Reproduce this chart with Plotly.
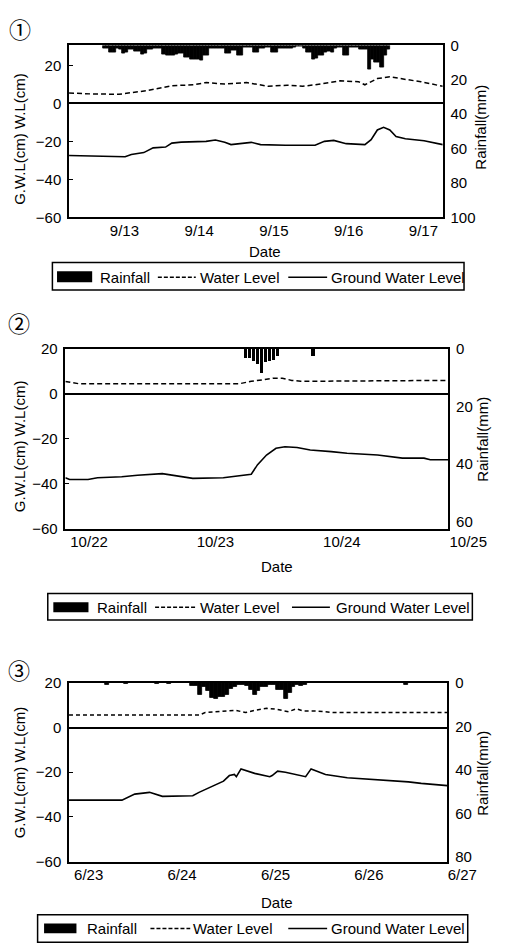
import plotly.graph_objects as go
import pandas as pd

# ---------------- data ----------------
# Event 1 : hours counted from 9/12 00:00
p1_base = "1998-09-12"
p1_rain_start = "1998-09-12 23:00"          # hourly rainfall (mm)
p1_rain = [1.7, 1.7, 3.8, 3.8, 1.7, 2.5, 4.6, 4.0, 2.3, 2.3, 3.2, 3.2, 5.5, 4.5, 2.3, 2.3, 1.9, 1.9, 1.9, 5.0,
           6.1, 6.1, 6.1, 5.0, 4.8, 4.8, 6.7, 6.7, 8.0, 8.0, 8.0, 8.9, 5.7, 5.7, 1.7, 1.7, 1.7, 1.7, 1.7, 4.6,
           4.6, 2.9, 2.9, 5.7, 5.7, 1.3, 1.3, 1.3, 3.8, 3.8, 1.9, 1.9, 1.0, 1.0, 3.8, 3.8, 1.7, 1.7, 1.7, 1.7,
           1.7, 1.2, 0.8, 0.8, 2.0, 4.2, 4.2, 8.0, 7.5, 6.1, 6.1, 4.0, 3.2, 4.2, 2.0, 1.3, 1.3, 5.7, 5.7, 1.3,
           1.3, 1.3, 2.3, 2.3, 2.3, 13.7, 8.0, 9.9, 9.9, 12.7, 6.1, 2.3]
p1_wl_h = [12, 19, 28, 37, 45, 52, 56, 62, 69, 72, 76, 82, 87, 91, 96, 99, 105, 107, 111, 115, 121, 125, 132]
p1_wl = [5.5, 5.0, 4.8, 6.7, 9.3, 9.8, 11.0, 10.2, 11.0, 10.0, 9.0, 9.6, 9.0, 9.8, 11.0, 11.9, 11.4, 9.8,
         13.1, 14.0, 12.4, 11.4, 9.0]
p1_gw_h = [12, 22, 30, 32, 36, 39, 43, 45, 48, 56, 59, 62, 64, 70.5, 73.5, 81.5, 91, 94, 97, 101, 107, 109,
           111, 113, 115, 117, 120, 126, 132]
p1_gw = [-27.4, -28.0, -28.1, -26.9, -25.9, -23.4, -23.0, -20.9, -20.4, -20.0, -19.3, -20.5, -21.7, -20.5,
         -21.7, -22.0, -22.0, -20.0, -19.5, -21.2, -21.7, -19.1, -14.0, -12.6, -14.0, -17.4, -18.6, -19.7, -21.7]
p1_tickdates = ["1998-09-13", "1998-09-14", "1998-09-15", "1998-09-16", "1998-09-17"]
p1_ticktext = ["9/13", "9/14", "9/15", "9/16", "9/17"]

# Event 2 : hours counted from 10/22 00:00
p2_base = "1998-10-22"
p2_rain_h = [33.5, 34.3, 35.1, 35.9, 36.6, 37.4, 38.1, 38.9, 39.6, 46.4]
p2_rain = [3.1, 3.1, 4.2, 5.3, 8.4, 4.5, 4.2, 3.9, 2.3, 2.3]
p2_wl_h = [-0.7, 1.9, 32.3, 34.6, 37, 38.8, 40.5, 42.3, 44, 72]
p2_wl = [5.5, 4.5, 4.5, 5.6, 6.3, 7.0, 7.0, 6.0, 5.6, 6.0]
p2_gw_h = [-0.7, 0.1, 3.6, 5.4, 10, 13, 17.7, 20, 23.5, 29.3, 32.3, 34.6, 35.8, 37.5, 39.3, 41, 43.3, 45.8,
           49.8, 52.8, 58.6, 63.3, 67.4, 68.6, 72]
p2_gw = [-37.3, -38.1, -38.1, -37.3, -36.9, -36.2, -35.5, -36.2, -37.6, -37.3, -36.5, -35.8, -31.5, -27.2,
         -24.2, -23.5, -23.9, -25.0, -25.7, -26.4, -27.2, -28.6, -28.6, -29.3, -29.3]
p2_tickdates = ["1998-10-22", "1998-10-23", "1998-10-24", "1998-10-25"]
p2_ticktext = ["10/22", "10/23", "10/24", "10/25"]

# Event 3 : hours counted from 6/23 00:00
p3_base = "1998-06-23"
p3_rain_h = [8, 13, 21, 24, 30, 31, 32, 33, 34, 35, 36, 37, 38, 39, 40, 41, 42, 43, 44, 45, 46, 47, 48, 49,
             50, 51, 52, 53, 54, 55, 56, 57, 58, 59, 85]
p3_rain = [0.8, 0.5, 0.4, 0.5, 1.4, 1.4, 5.3, 1.8, 3.5, 7.0, 7.4, 6.3, 6.6, 5.6, 2.6, 2.0, 0.8, 1.0, 1.4, 3.3,
           5.6, 3.8, 1.8, 1.8, 0.8, 0.8, 3.3, 3.3, 7.4, 4.8, 1.8, 1.0, 1.4, 1.0, 0.8]
p3_wl_h = [-1.2, 32.2, 33.8, 38.6, 41.7, 44.1, 46.5, 49.6, 52, 55.2, 57.2, 59.1, 62.3, 67.1, 96]
p3_wl = [5.6, 5.6, 6.7, 7.4, 7.7, 6.7, 7.7, 8.6, 8.2, 7.1, 8.4, 7.4, 7.4, 6.7, 6.7]
p3_gw_h = [-1.2, 12.4, 15.7, 19.5, 22.8, 30.6, 32.2, 34.6, 38.5, 40, 41.3, 41.8, 43, 46.5, 50.4, 51, 52.4,
           54.4, 58.4, 59.6, 61, 64.7, 70.3, 78.1, 86, 89.3, 92, 96]
p3_gw = [-32.5, -32.5, -29.8, -29.0, -30.8, -30.5, -29.0, -27.0, -24.0, -21.5, -21.0, -22.0, -18.5, -20.5,
         -22.0, -21.5, -19.5, -20.0, -21.8, -22.0, -18.5, -21.0, -22.5, -23.3, -24.3, -25.0, -25.5, -26.0]
p3_tickdates = ["1998-06-23", "1998-06-24", "1998-06-25", "1998-06-26", "1998-06-27"]
p3_ticktext = ["6/23", "6/24", "6/25", "6/26", "6/27"]

legend_labels = ["Rainfall", "Water Level", "Ground Water Level"]
y_title = "G.W.L(cm) W.L(cm)"
y2_title = "Rainfall(mm)"
x_title = "Date"
panel_marks = ["①", "②", "③"]

# ---------------- helpers ----------------
W, H = 520, 950
FONT = "Liberation Sans, Arial, Helvetica, sans-serif"


def t(base, hours):
    return pd.Timestamp(base) + pd.to_timedelta(pd.Series(hours, dtype=float), unit="h")


def px(x):
    return x / W


def py(y):
    return 1 - y / H


fig = go.Figure()

# panel geometry (pixels)
panels = [
    dict(x0=66, x1=470, y0=29, y1=204),
    dict(x0=62, x1=476, y0=338, y1=521),
    dict(x0=66, x1=475, y0=678, y1=860),
]

line_kw_wl = dict(color="black", width=1.5, dash="5px,3px")
line_kw_gw = dict(color="black", width=1.6)
solid_bar = dict(color="black", line=dict(color="black", width=0.8))

# --- panel 1 traces
p1_rain_x = pd.date_range(p1_rain_start, periods=len(p1_rain), freq="h") + pd.Timedelta(minutes=30)
fig.add_trace(go.Bar(x=p1_rain_x, y=p1_rain, width=3600000, marker=solid_bar,
                     xaxis="x", yaxis="y2", showlegend=False))
fig.add_trace(go.Scatter(x=t(p1_base, p1_wl_h), y=p1_wl, mode="lines", line=line_kw_wl,
                         xaxis="x", yaxis="y", showlegend=False))
fig.add_trace(go.Scatter(x=t(p1_base, p1_gw_h), y=p1_gw, mode="lines", line=line_kw_gw,
                         xaxis="x", yaxis="y", showlegend=False))

# --- panel 2 traces
fig.add_trace(go.Bar(x=t(p2_base, p2_rain_h), y=p2_rain, width=2200000,
                     marker=dict(color="black", line=dict(width=0)),
                     xaxis="x2", yaxis="y4", showlegend=False))
fig.add_trace(go.Scatter(x=t(p2_base, p2_wl_h), y=p2_wl, mode="lines", line=line_kw_wl,
                         xaxis="x2", yaxis="y3", showlegend=False))
fig.add_trace(go.Scatter(x=t(p2_base, p2_gw_h), y=p2_gw, mode="lines", line=line_kw_gw,
                         xaxis="x2", yaxis="y3", showlegend=False))

# --- panel 3 traces
fig.add_trace(go.Bar(x=t(p3_base, p3_rain_h) + pd.Timedelta(minutes=30), y=p3_rain, width=3600000,
                     marker=solid_bar, xaxis="x3", yaxis="y6", showlegend=False))
fig.add_trace(go.Scatter(x=t(p3_base, p3_wl_h), y=p3_wl, mode="lines", line=dict(color="black", width=1.5, dash="4px,3px"),
                         xaxis="x3", yaxis="y5", showlegend=False))
fig.add_trace(go.Scatter(x=t(p3_base, p3_gw_h), y=p3_gw, mode="lines", line=line_kw_gw,
                         xaxis="x3", yaxis="y5", showlegend=False))


def xaxis(p, anchor, rng, tv, tt, shift):
    return dict(domain=[px(p["x0"]), px(p["x1"])], anchor=anchor, type="date", range=rng,
                tickvals=tv, ticktext=tt, ticks="", showgrid=False, zeroline=False,
                showline=True, linecolor="black", linewidth=1.5, mirror=True,
                tickfont=dict(size=15, color="black"), ticklabelshift=shift, ticklabelstandoff=-1)


def yleft(p, anchor, rng, tv):
    return dict(domain=[py(p["y1"]), py(p["y0"])], anchor=anchor, range=rng, tickvals=tv,
                ticks="inside", ticklen=4, tickcolor="black", showgrid=False,
                zeroline=True, zerolinecolor="black", zerolinewidth=2,
                showline=True, linecolor="black", linewidth=1.5,
                tickfont=dict(size=15, color="black"), ticklabelstandoff=3)


def yright(overlay, anchor, rng, tv):
    return dict(overlaying=overlay, anchor=anchor, side="right", range=rng, tickvals=tv,
                ticks="", showgrid=False, zeroline=False,
                showline=True, linecolor="black", linewidth=1.5,
                tickfont=dict(size=15, color="black"), ticklabelstandoff=3)


fig.update_layout(
    xaxis=xaxis(panels[0], "y", ["1998-09-12 12:00", "1998-09-17 12:00"], p1_tickdates, p1_ticktext, 18),
    yaxis=yleft(panels[0], "x", [-60, 30.5], [-60, -40, -20, 0, 20]),
    yaxis2=yright("y", "x", [100, 0], [0, 20, 40, 60, 80, 100]),
    xaxis2=xaxis(panels[1], "y3", ["1998-10-21 23:18", "1998-10-25 00:01"], p2_tickdates, p2_ticktext, 20),
    yaxis3=yleft(panels[1], "x2", [-60, 20], [-60, -40, -20, 0, 20]),
    yaxis4=yright("y3", "x2", [62.5, 0], [0, 20, 40, 60]),
    xaxis3=xaxis(panels[2], "y5", ["1998-06-22 22:49", "1998-06-27 00:01"], p3_tickdates, p3_ticktext, 15),
    yaxis5=yleft(panels[2], "x3", [-60, 20], [-60, -40, -20, 0, 20]),
    yaxis6=yright("y5", "x3", [82, 0], [0, 20, 40, 60, 80]),
)

annotations = []
shapes = []


def ann(text, x, y, size=15, angle=0, xanchor="center", family=FONT):
    annotations.append(dict(text=text, x=px(x), y=py(y), xref="paper", yref="paper", showarrow=False,
                            xanchor=xanchor, yanchor="middle", textangle=angle,
                            font=dict(size=size, color="black", family=family)))


# panel marks and titles
marks_pos = [(13, 11), (12, 311), (12, 664)]
date_pos = [(278, 239), (291, 560), (291, 902)]
ytitle_pos = [(13, 124), (12, 437), (12, 769)]
y2title_pos = [(511, 112), (513, 430), (513, 770)]
for i in range(3):
    ann(panel_marks[i], *marks_pos[i], size=22, family="Noto Sans CJK JP")
    ann(x_title, *date_pos[i], size=15)
    ann(y_title, *ytitle_pos[i], size=15, angle=-90)
    ann(y2_title, *y2title_pos[i], size=15, angle=-90)

# legends (drawn boxes)
legends = [
    dict(box=(48, 250, 493, 278), rect=(53, 259, 91, 270), ty=265, tx=(97, 205, 347),
         dash=(162, 203), solid=(303, 345)),
    dict(box=(43, 587, 502, 614), rect=(49, 596, 87, 606), ty=601, tx=(94, 205, 352),
         dash=(159, 203), solid=(307, 348)),
    dict(box=(32, 914, 497, 942), rect=(39, 923, 74, 933), ty=928, tx=(83, 198, 347),
         dash=(154, 197), solid=(303, 345)),
]
for lg in legends:
    bx0, by0, bx1, by1 = lg["box"]
    shapes.append(dict(type="rect", xref="paper", yref="paper", x0=px(bx0), x1=px(bx1), y0=py(by1), y1=py(by0),
                       line=dict(color="black", width=1.5), fillcolor="rgba(0,0,0,0)"))
    rx0, ry0, rx1, ry1 = lg["rect"]
    shapes.append(dict(type="rect", xref="paper", yref="paper", x0=px(rx0), x1=px(rx1), y0=py(ry1), y1=py(ry0),
                       line=dict(width=0), fillcolor="black"))
    shapes.append(dict(type="line", xref="paper", yref="paper", x0=px(lg["dash"][0]), x1=px(lg["dash"][1]),
                       y0=py(lg["ty"]), y1=py(lg["ty"]), line=dict(color="black", width=1.5, dash="4px,2px")))
    shapes.append(dict(type="line", xref="paper", yref="paper", x0=px(lg["solid"][0]), x1=px(lg["solid"][1]),
                       y0=py(lg["ty"]), y1=py(lg["ty"]), line=dict(color="black", width=1.5)))
    for lab, x in zip(legend_labels, lg["tx"]):
        ann(lab, x, lg["ty"], size=15, xanchor="left")

fig.update_layout(
    width=W, height=H, margin=dict(l=0, r=0, t=0, b=0),
    paper_bgcolor="white", plot_bgcolor="white",
    font=dict(family=FONT, size=15, color="black"),
    showlegend=False, bargap=0,
    annotations=annotations, shapes=shapes,
)

fig.write_html("out.html")
